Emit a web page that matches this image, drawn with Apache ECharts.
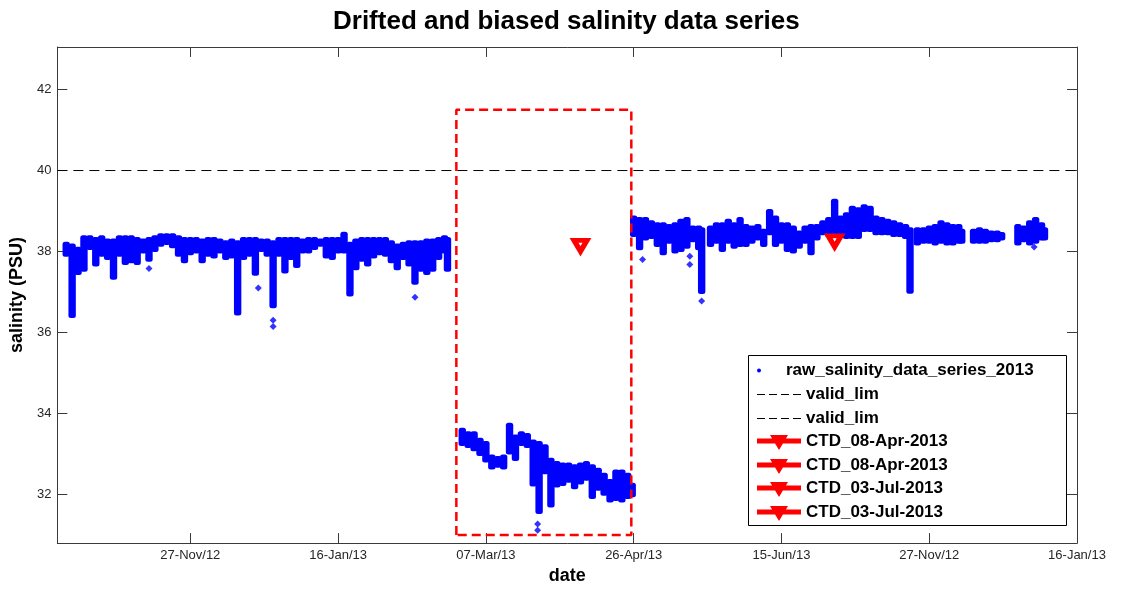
<!DOCTYPE html>
<html>
<head>
<meta charset="utf-8">
<title>Drifted and biased salinity data series</title>
<script src="https://cdn.jsdelivr.net/npm/echarts@6/dist/echarts.min.js"></script>
<style>
  html, body { margin: 0; padding: 0; background: #fff; }
  #chart { width: 1121px; height: 590px; }
</style>
</head>
<body>
<div id="chart"></div>
<script>
// Day 0 = 27-Nov-2012; one unit on the x axis is one day.
const tickDays = [0, 50, 100, 150, 200, 250, 300];
const tickLabels = ['27-Nov/12', '16-Jan/13', '07-Mar/13', '26-Apr/13', '15-Jun/13', '27-Nov/12', '16-Jan/13'];
const salinityTicks = [32, 34, 36, 38, 40, 42];

// Raw salinity spread per 2-day bin: [day, lowest, highest] (PSU)
const driftBand = [
  [-42, 37.87, 38.24], [-40, 36.36, 38.20], [-38, 37.42, 38.12], [-36, 37.50, 38.40],
  [-34, 38.04, 38.40], [-32, 37.63, 38.36], [-30, 37.87, 38.40], [-28, 37.79, 38.32],
  [-26, 37.30, 38.32], [-24, 37.87, 38.40], [-22, 37.67, 38.40], [-20, 37.71, 38.40],
  [-18, 37.67, 38.36], [-16, 37.95, 38.32], [-14, 37.75, 38.36], [-12, 37.99, 38.40],
  [-10, 38.12, 38.45], [-8, 38.16, 38.45], [-6, 38.08, 38.45], [-4, 37.87, 38.40],
  [-2, 37.71, 38.36], [0, 37.91, 38.36], [2, 37.95, 38.36], [4, 37.71, 38.32],
  [6, 37.87, 38.36], [8, 37.83, 38.36], [10, 37.95, 38.32], [12, 37.79, 38.28],
  [14, 37.83, 38.32], [16, 36.42, 38.28], [18, 37.79, 38.36], [20, 37.87, 38.36],
  [22, 37.40, 38.36], [24, 37.99, 38.32], [26, 37.87, 38.32], [28, 36.60, 38.28],
  [30, 37.87, 38.36], [32, 37.46, 38.36], [34, 37.79, 38.36], [36, 37.59, 38.36],
  [38, 37.95, 38.32], [40, 37.95, 38.36], [42, 38.04, 38.36], [44, 38.12, 38.32],
  [46, 37.83, 38.36], [48, 37.79, 38.36], [50, 37.95, 38.36], [52, 37.95, 38.49],
  [54, 36.89, 38.24], [56, 37.54, 38.32], [58, 37.75, 38.36], [60, 37.63, 38.36],
  [62, 37.83, 38.36], [64, 37.91, 38.36], [66, 37.87, 38.36], [68, 37.71, 38.28],
  [70, 37.54, 38.20], [72, 37.79, 38.24], [74, 37.63, 38.28], [76, 37.18, 38.28],
  [78, 37.50, 38.28], [80, 37.42, 38.32], [82, 37.50, 38.32], [84, 37.79, 38.36],
  [86, 37.95, 38.40], [87, 37.50, 38.36]
];
const biasedBand = [
  [92, 33.20, 33.65], [94, 33.15, 33.56], [96, 33.07, 33.56], [98, 32.95, 33.40],
  [100, 32.79, 33.32], [102, 32.62, 32.99], [104, 32.66, 32.95], [106, 32.62, 32.99],
  [108, 32.99, 33.77], [110, 32.83, 33.48], [112, 33.20, 33.56], [114, 33.15, 33.52],
  [116, 32.20, 33.36], [118, 31.52, 33.32], [120, 32.50, 33.24], [122, 31.68, 32.91],
  [124, 32.17, 32.83], [126, 32.21, 32.79], [128, 32.29, 32.79], [130, 32.13, 32.75],
  [132, 32.25, 32.79], [134, 32.34, 32.83], [136, 31.89, 32.75], [138, 32.09, 32.66],
  [140, 31.97, 32.54], [142, 31.80, 32.38], [144, 31.84, 32.62], [146, 31.80, 32.62],
  [148, 31.89, 32.54], [149.5, 31.93, 32.29]
];
const recentBand = [
  [150, 38.36, 38.89], [152, 38.03, 38.85], [154, 38.27, 38.85], [156, 38.31, 38.77],
  [158, 38.11, 38.72], [160, 37.91, 38.72], [162, 38.19, 38.68], [164, 37.95, 38.72],
  [166, 37.99, 38.81], [168, 38.07, 38.85], [170, 38.23, 38.64], [172, 38.03, 38.64],
  [173, 36.95, 38.60], [176, 38.11, 38.64], [178, 38.19, 38.72], [180, 37.99, 38.72],
  [182, 38.19, 38.81], [184, 38.07, 38.72], [186, 38.11, 38.85], [188, 38.11, 38.68],
  [190, 38.19, 38.64], [192, 38.27, 38.68], [194, 38.11, 38.56], [196, 38.40, 39.05],
  [198, 38.11, 38.89], [200, 38.19, 38.72], [202, 37.99, 38.72], [204, 37.95, 38.64],
  [206, 38.07, 38.52], [208, 38.19, 38.64], [210, 37.91, 38.68], [212, 38.27, 38.68],
  [214, 38.40, 38.77], [216, 38.36, 38.85], [218, 38.40, 39.30], [220, 38.36, 38.89],
  [222, 38.31, 38.97], [224, 38.31, 39.13], [226, 38.31, 39.09], [228, 38.48, 39.17],
  [230, 38.48, 39.13], [232, 38.40, 38.89], [234, 38.40, 38.85], [236, 38.40, 38.81],
  [238, 38.36, 38.77], [240, 38.36, 38.72], [242, 38.31, 38.68], [243.5, 36.96, 38.60],
  [246, 38.15, 38.60], [248, 38.19, 38.60], [250, 38.19, 38.64], [252, 38.15, 38.68],
  [254, 38.19, 38.77], [256, 38.15, 38.72], [258, 38.15, 38.68], [260, 38.19, 38.68],
  [261, 38.19, 38.56], [265, 38.19, 38.56], [267, 38.19, 38.60], [269, 38.19, 38.56],
  [271, 38.23, 38.52], [273, 38.23, 38.52], [274.5, 38.27, 38.48], [280, 38.15, 38.68],
  [282, 38.23, 38.64], [284, 38.15, 38.77], [286, 38.19, 38.85], [288, 38.27, 38.72],
  [289, 38.27, 38.60]
];
// Isolated readings below the main spread: [day, salinity]
const strayReadings = [
  [-14, 37.58], [23, 37.10], [28, 36.30], [28, 36.15], [76, 36.87],
  [117.5, 31.27], [117.5, 31.12], [153, 37.80], [169, 37.88], [169, 37.68],
  [173, 36.78], [285.5, 38.11]
];

const validLimit = 40;
const ctdApr = [[132, 38.14]];
const ctdJul = [[218, 38.25]];
// Dashed frame around the biased stretch: day range and salinity range
const frameDays = [90, 149.2];
const frameSalinity = [31.0, 41.5];

const FONT = '"Liberation Sans", Arial, Helvetica, sans-serif';
const AXIS_COLOR = '#3a3a3a';
const BLUE = '#0000ff';
const RED = '#ff0000';

const bandData = driftBand.concat(biasedBand, recentBand);
const frameData = [
  [frameDays[0], frameSalinity[0]], [frameDays[0], frameSalinity[1]],
  [frameDays[1], frameSalinity[1]], [frameDays[1], frameSalinity[0]],
  [frameDays[0], frameSalinity[0]]
];

const chart = echarts.init(document.getElementById('chart'), null, { renderer: 'canvas' });

// Each bin is a filled column spanning its lowest..highest reading,
// slightly wider than the bin so neighbouring columns merge into one band.
function renderBin(params, api) {
  const day = api.value(0);
  const topLeft = api.coord([day - 1.25, api.value(2)]);
  const bottomRight = api.coord([day + 1.25, api.value(1)]);
  return {
    type: 'rect',
    shape: {
      x: topLeft[0], y: topLeft[1],
      width: bottomRight[0] - topLeft[0], height: bottomRight[1] - topLeft[1],
      r: 2.5
    },
    style: { fill: BLUE }
  };
}

const legendRows = [370.5, 394.5, 418.5, 441, 465, 488, 512];
const legendNames = ['raw_salinity_data_series_2013', 'valid_lim', 'valid_lim',
  'CTD_08-Apr-2013', 'CTD_08-Apr-2013', 'CTD_03-Jul-2013', 'CTD_03-Jul-2013'];
const dashIcon = 'path://M0,0H8V1H0Z M12,0H20V1H12Z M24,0H32V1H24Z M36,0H44V1H36Z';
const ctdIcon = 'path://M22,-3Z M0,3.5H44V8.5H0Z M13,0H31L22,15Z';

const legends = legendNames.map(function (name, i) {
  let item, h;
  if (i === 0) {
    item = { name: name, icon: 'circle', itemStyle: { color: BLUE } }; h = 4;
  } else if (i < 3) {
    item = { name: name, icon: dashIcon, itemStyle: { color: '#000' } }; h = 1;
  } else {
    item = { name: name, icon: ctdIcon, itemStyle: { color: RED, borderWidth: 0 } }; h = 18;
  }
  return {
    left: 757, top: legendRows[i] - 9, padding: 0,
    selectedMode: false, z: 20,
    itemWidth: 44, itemHeight: h,
    data: [item],
    textStyle: { fontFamily: FONT, fontSize: 17, fontWeight: 'bold', color: '#000', lineHeight: 18 }
  };
});

const option = {
  animation: false,
  backgroundColor: '#fff',
  title: {
    text: 'Drifted and biased salinity data series',
    left: 333, top: 9, padding: 0,
    textStyle: { fontFamily: FONT, fontSize: 26, fontWeight: 'bold', color: '#000' }
  },
  grid: { left: 55, right: 44, top: 47, bottom: 44, containLabel: false },
  xAxis: [{
    type: 'value', position: 'bottom', min: -45, max: 300,
    name: 'date', nameLocation: 'middle', nameGap: 22,
    nameTextStyle: { fontFamily: FONT, fontSize: 18, fontWeight: 'bold', color: '#000' },
    axisLine: { show: true, onZero: false, lineStyle: { color: AXIS_COLOR, width: 1 } },
    axisTick: { show: true, inside: true, length: 10, customValues: tickDays, lineStyle: { color: AXIS_COLOR } },
    axisLabel: {
      show: true, customValues: tickDays, margin: 6,
      fontFamily: FONT, fontSize: 13, color: '#262626',
      formatter: function (v) { return tickLabels[tickDays.indexOf(v)]; }
    },
    splitLine: { show: false }
  }, {
    type: 'value', position: 'top', min: -45, max: 300,
    axisLine: { show: true, onZero: false, lineStyle: { color: AXIS_COLOR, width: 1 } },
    axisTick: { show: true, inside: true, length: 10, customValues: tickDays, lineStyle: { color: AXIS_COLOR } },
    axisLabel: { show: false },
    splitLine: { show: false }
  }],
  yAxis: [{
    type: 'value', position: 'left', min: 30.8, max: 43.05,
    name: 'salinity (PSU)', nameLocation: 'middle', nameGap: 26,
    nameTextStyle: { fontFamily: FONT, fontSize: 18, fontWeight: 'bold', color: '#000' },
    axisLine: { show: true, onZero: false, lineStyle: { color: AXIS_COLOR, width: 1 } },
    axisTick: { show: true, inside: true, length: 10, customValues: salinityTicks, lineStyle: { color: AXIS_COLOR } },
    axisLabel: {
      show: true, customValues: salinityTicks, margin: 6,
      fontFamily: FONT, fontSize: 13, color: '#262626'
    },
    splitLine: { show: false }
  }, {
    type: 'value', position: 'right', min: 30.8, max: 43.05,
    axisLine: { show: true, onZero: false, lineStyle: { color: AXIS_COLOR, width: 1 } },
    axisTick: { show: true, inside: true, length: 10, customValues: salinityTicks, lineStyle: { color: AXIS_COLOR } },
    axisLabel: { show: false },
    splitLine: { show: false }
  }],
  legend: legends,
  graphic: [{
    type: 'rect', z: 15,
    shape: { x: 748.5, y: 355.5, width: 318, height: 170 },
    style: { fill: '#fff', stroke: '#000', lineWidth: 1 }
  }],
  series: [
    {
      name: 'valid_lim', type: 'line', xAxisIndex: 0, yAxisIndex: 0,
      data: [[-45, validLimit], [300, validLimit]],
      symbol: 'none', silent: true, z: 1,
      lineStyle: { color: '#000', width: 1, type: [10, 6] }
    },
    {
      name: 'raw_salinity_data_series_2013', type: 'custom', xAxisIndex: 0, yAxisIndex: 0,
      data: bandData, encode: { x: 0, y: [1, 2] },
      renderItem: renderBin, clip: true, silent: true, z: 2,
      itemStyle: { color: BLUE }
    },
    {
      name: 'raw_salinity_data_series_2013', type: 'scatter', xAxisIndex: 0, yAxisIndex: 0,
      data: strayReadings, symbol: 'diamond', symbolSize: 7, silent: true, z: 2,
      itemStyle: { color: BLUE }
    },
    {
      name: 'suspect_window', type: 'line', xAxisIndex: 0, yAxisIndex: 0,
      data: frameData, symbol: 'none', silent: true, z: 3,
      lineStyle: { color: RED, width: 2.5, type: [9, 5] }
    },
    {
      name: 'CTD_08-Apr-2013', type: 'line', xAxisIndex: 0, yAxisIndex: 0,
      data: ctdApr, symbol: 'triangle', symbolRotate: 180, symbolSize: [13, 11],
      silent: true, z: 4,
      lineStyle: { color: RED, width: 4 },
      itemStyle: { color: '#fff', borderColor: RED, borderWidth: 5 }
    },
    {
      name: 'CTD_03-Jul-2013', type: 'line', xAxisIndex: 0, yAxisIndex: 0,
      data: ctdJul, symbol: 'triangle', symbolRotate: 180, symbolSize: [13, 11],
      silent: true, z: 4,
      lineStyle: { color: RED, width: 4 },
      itemStyle: { color: '#fff', borderColor: RED, borderWidth: 5 }
    }
  ]
};

chart.setOption(option);
</script>
</body>
</html>
